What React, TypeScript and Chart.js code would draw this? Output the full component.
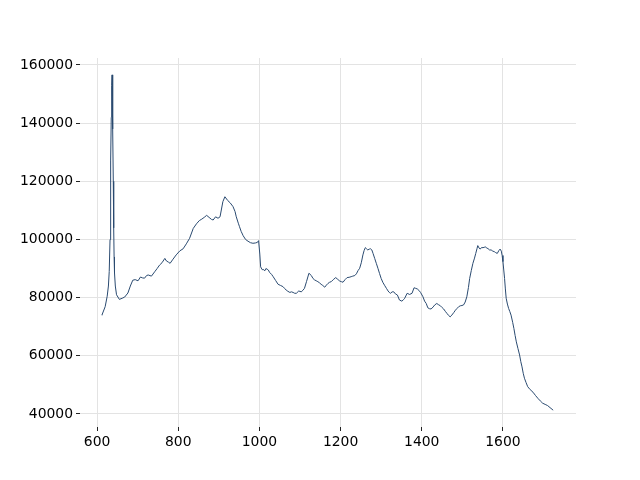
import React, { useEffect, useRef } from "react";
import { Chart, registerables } from "chart.js";

Chart.register(...registerables);

const waveNumbers: number[] = [
  612, 620, 625, 628, 630, 632, 633, 634, 635, 636, 637, 638, 639, 640, 641, 642, 643, 645, 648, 655, 662, 668, 676, 682,
  688, 694, 701, 707, 712, 717, 722, 726, 734, 742, 748, 754, 760, 767, 771, 776, 780, 786, 795, 804,
  812, 820, 828, 837, 845, 852, 858, 864, 870, 876, 882, 886, 892, 898, 903, 910, 915, 922, 928, 935,
  940, 943, 948, 951, 955, 960, 966, 972, 978, 984, 990, 995, 998, 1001, 1003, 1007, 1010, 1013, 1016, 1019,
  1022, 1025, 1030, 1034, 1040, 1046, 1052, 1058, 1062, 1066, 1070, 1075, 1079, 1083, 1087, 1091, 1097, 1103, 1107, 1111,
  1116, 1122, 1128, 1132, 1136, 1140, 1144, 1148, 1152, 1156, 1161, 1165, 1169, 1173, 1177, 1182, 1188, 1193, 1198, 1202,
  1206, 1211, 1216, 1221, 1226, 1230, 1235, 1239, 1243, 1247, 1251, 1255, 1258, 1261, 1264, 1267, 1271, 1274, 1277, 1280,
  1284, 1288, 1292, 1296, 1300, 1304, 1309, 1313, 1317, 1320, 1323, 1327, 1331, 1335, 1340, 1345, 1351, 1355, 1358, 1364,
  1370, 1376, 1381, 1385, 1389, 1393, 1397, 1403, 1407, 1411, 1415, 1419, 1423, 1428, 1432, 1437, 1441, 1446, 1450, 1454,
  1458, 1462, 1466, 1470, 1474, 1479, 1483, 1487, 1491, 1495, 1499, 1503, 1507, 1511, 1515, 1518, 1522, 1526, 1530, 1533,
  1536, 1538, 1541, 1544, 1547, 1551, 1554, 1557, 1560, 1563, 1567, 1571, 1575, 1579, 1582, 1586, 1590, 1593, 1596, 1598,
  1600, 1602, 1604, 1606, 1608, 1611, 1614, 1617, 1620, 1624, 1627, 1630, 1633, 1637, 1641, 1644, 1647, 1650, 1653, 1657,
  1661, 1667, 1674, 1680, 1686, 1692, 1698, 1704, 1710, 1716, 1723,
];

const intensity: number[] = [
  74000, 76900, 80500, 84000, 89000, 100000, 112000, 127000, 142000, 153000, 156600, 151000, 138000, 120000, 104000, 94000, 88500, 84000, 81000, 79400, 79800, 80200, 81600, 84000,
  86000, 86200, 85800, 87100, 86800, 86700, 87600, 87800, 87400, 88900, 90000, 91200, 92000, 93500, 92600, 92200, 91800, 93000, 94700, 96100,
  96800, 98500, 100400, 103800, 105400, 106500, 107000, 107600, 108300, 107600, 106900, 106700, 107800, 107300, 107800, 113000, 114700, 113400, 112600, 111300,
  109600, 107800, 105600, 104400, 102800, 101300, 100000, 99400, 98900, 98700, 98800, 99000, 99600, 95000, 90600, 89600, 89700, 89200, 90000, 89800,
  89500, 88700, 88000, 87200, 85900, 84600, 84200, 83800, 83200, 82600, 82200, 81800, 82000, 81800, 81500, 81500, 82300, 82000, 82500, 83200,
  85500, 88400, 87600, 86600, 86100, 85800, 85500, 85100, 84600, 84200, 83600, 84300, 84900, 85300, 85500, 86200, 86900, 86300, 85700, 85500,
  85300, 86200, 86900, 87000, 87200, 87400, 87600, 88200, 89300, 90100, 92000, 94700, 96200, 97200, 96800, 96400, 96700, 96800, 96400, 95200,
  93500, 91800, 90100, 88300, 86600, 85300, 84100, 83200, 82300, 81800, 81500, 82000, 82000, 81300, 80900, 79200, 78800, 79300, 79800, 81500,
  81100, 81500, 83400, 83200, 83000, 82500, 81800, 80300, 78800, 78000, 76500, 76200, 76100, 76800, 77500, 78000, 77600, 77200, 76600, 76100,
  75300, 74600, 73900, 73400, 74000, 74900, 75700, 76300, 76900, 77200, 77300, 77500, 78500, 80300, 83500, 86600, 89300, 91800, 93600, 95200,
  96800, 97900, 97100, 96700, 97200, 97200, 97300, 97500, 97000, 96900, 96400, 96400, 96000, 95800, 95500, 95200, 96200, 96700, 96000, 94500,
  92400, 89500, 86600, 83000, 79800, 77800, 76300, 75200, 74000, 71500, 69400, 67000, 64800, 62500, 60300, 58000, 56200, 54000, 52300, 50800,
  49400, 48400, 47500, 46400, 45400, 44500, 43700, 43300, 42900, 42200, 41400,
];

const xTicks: number[] = [600, 800, 1000, 1200, 1400, 1600];
const yTicks: number[] = [40000, 60000, 80000, 100000, 120000, 140000, 160000];

export default function App() {
  const canvasRef = useRef<HTMLCanvasElement | null>(null);

  useEffect(() => {
    if (!canvasRef.current) return;
    const font = { family: "'DejaVu Sans', sans-serif", size: 13.9 };
    const chart = new Chart(canvasRef.current, {
      type: "line",
      data: {
        datasets: [
          {
            data: waveNumbers.map((x, i) => ({ x, y: intensity[i] })),
            borderColor: "#2a4a70",
            borderWidth: 1,
            borderJoinStyle: "round",
            borderCapStyle: "round",
            pointRadius: 0,
            tension: 0,
            fill: false,
          },
        ],
      },
      options: {
        animation: false,
        responsive: false,
        layout: { padding: { top: 58, right: 64, left: 0, bottom: 0 } },
        plugins: { legend: { display: false }, tooltip: { enabled: false } },
        scales: {
          x: {
            type: "linear",
            min: 558,
            max: 1780,
            afterBuildTicks: (scale: any) => {
              scale.ticks = xTicks.map((v) => ({ value: v }));
            },
            afterFit: (scale: any) => {
              scale.height = 53;
            },
            grid: { color: "#e3e3e3", lineWidth: 1, tickColor: "#222", tickLength: 4 },
            border: { display: false },
            ticks: { color: "#000", font, padding: 3, maxRotation: 0, callback: (v: any) => String(v) },
          },
          y: {
            type: "linear",
            min: 35530,
            max: 162400,
            afterBuildTicks: (scale: any) => {
              scale.ticks = yTicks.map((v) => ({ value: v }));
            },
            afterFit: (scale: any) => {
              scale.width = 80;
            },
            grid: { color: "#e3e3e3", lineWidth: 1, tickColor: "#222", tickLength: 4 },
            border: { display: false },
            ticks: { color: "#000", font, padding: 3, callback: (v: any) => String(v) },
          },
        },
      },
    });
    return () => chart.destroy();
  }, []);

  return (
    <div style={{ position: "absolute", left: 0, top: 0, width: 640, height: 480, background: "#fff" }}>
      <canvas ref={canvasRef} width={640} height={480} style={{ width: 640, height: 480 }} />
    </div>
  );
}
